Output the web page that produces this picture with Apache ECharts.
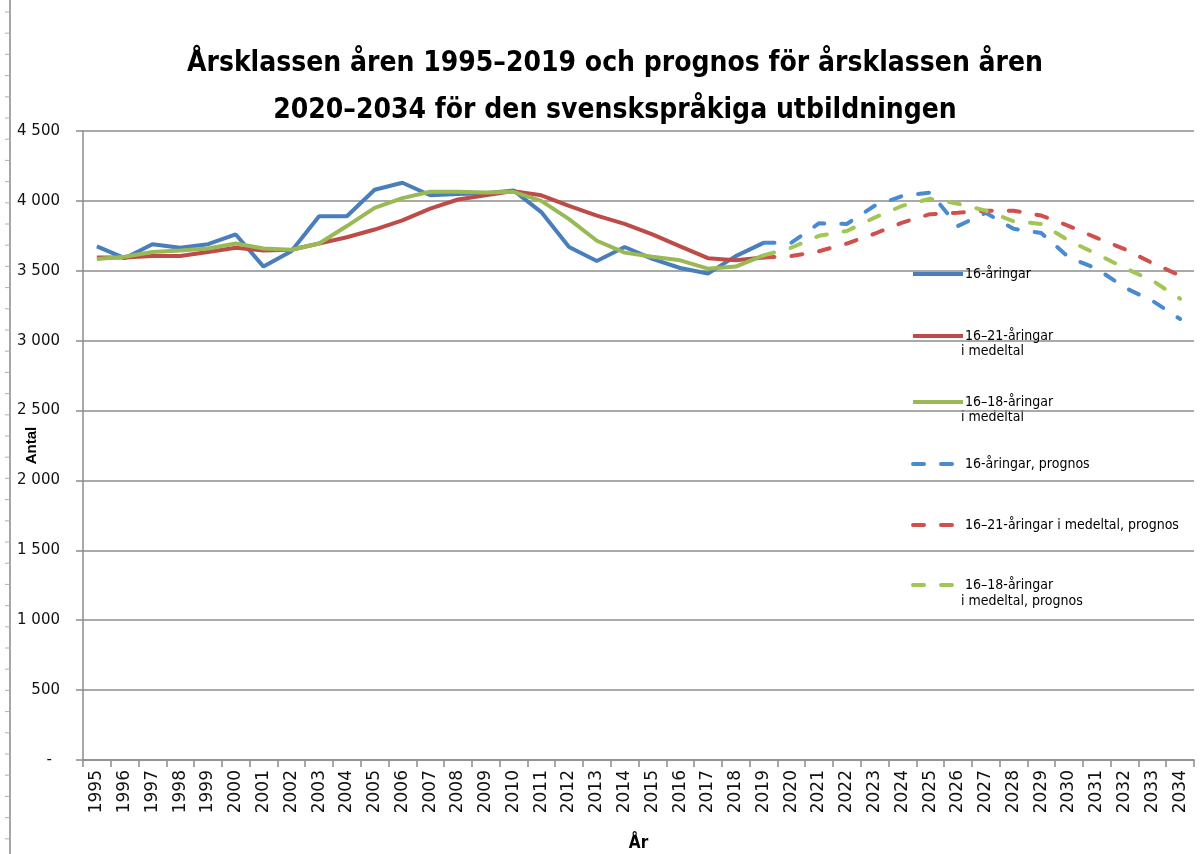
<!DOCTYPE html>
<html>
<head>
<meta charset="utf-8">
<script src="https://cdn.jsdelivr.net/npm/echarts@6/dist/echarts.min.js"></script>
<style>
html,body{margin:0;padding:0;background:#fff;}
#chart{width:1200px;height:854px;}
</style>
</head>
<body>
<div id="chart"></div>
<script>
const years = ['1995','1996','1997','1998','1999','2000','2001','2002','2003','2004','2005','2006','2007','2008','2009','2010','2011','2012','2013','2014','2015','2016','2017','2018','2019','2020','2021','2022','2023','2024','2025','2026','2027','2028','2029','2030','2031','2032','2033','2034'];

// Historical 1995–2019
const age16 = [3675,3590,3690,3665,3690,3760,3530,3640,3890,3890,4080,4130,4040,4050,4055,4075,3920,3670,3570,3670,3585,3520,3480,3605,3700];
const age16to21 = [3595,3595,3605,3605,3635,3665,3645,3650,3695,3740,3795,3860,3945,4010,4040,4070,4040,3965,3895,3835,3760,3675,3590,3575,3595];
const age16to18 = [3585,3600,3635,3645,3660,3695,3660,3650,3695,3820,3950,4020,4065,4065,4060,4065,4000,3870,3715,3630,3600,3575,3515,3530,3610];

// Forecast 2019–2034
const age16Forecast = [3700,3700,3840,3835,3965,4035,4060,3820,3915,3800,3770,3595,3515,3380,3285,3155];
const age16to21Forecast = [3595,3605,3640,3695,3765,3845,3905,3915,3930,3930,3895,3820,3735,3655,3555,3465];
const age16to18Forecast = [3610,3665,3750,3785,3880,3965,4015,3980,3930,3855,3835,3715,3620,3520,3430,3300];

const yTicks = ['-','500','1 000','1 500','2 000','2 500','3 000','3 500','4 000','4 500'];

const names = ['16-åringar','16–21-åringar','16–18-åringar','16-åringar, prognos','16–21-åringar i medeltal, prognos','16–18-åringar '];

function hist(arr){ return years.map((y,i)=> i < arr.length ? arr[i] : null); }
function fore(arr){ const start = years.indexOf('2019'); return years.map((y,i)=> i >= start ? arr[i-start] : null); }

const NARROW = "'Liberation Sans Narrow','DejaVu Sans Condensed','Liberation Sans',sans-serif";
const colors = ['#4a7ebb','#be4b48','#98b954','#4a8bd0','#d0504d','#a2c656'];

const dash = [11,17];
const chart = echarts.init(document.getElementById('chart'));

function mkLegend(idx, top){
  return {
    data:[{name: names[idx]}],
    left: 906, top: top,
    orient:'vertical',
    itemWidth: 50, itemHeight: 10, itemGap: 0,
    textStyle:{fontFamily:NARROW, fontSize:14, color:'#000', padding:[0,0,0,-3]},
    lineStyle:{width:4},
    itemStyle:{opacity:0},
    selectedMode:false
  };
}

const tickGraphics = [];
for (let k = 0; k < 40; k++) {
  const y = 12 + k*21.2;
  tickGraphics.push({type:'line', silent:true, shape:{x1:5,y1:y,x2:10,y2:y}, style:{stroke:'#b0b0b0', lineWidth:1}});
}

const option = {
  animation:false,
  backgroundColor:'#fff',
  title:{
    text:'Årsklassen åren 1995–2019 och prognos för årsklassen åren\n2020–2034 för den svenskspråkiga utbildningen',
    left:610, top:35, textAlign:'center',
    textStyle:{fontFamily:NARROW, fontSize:28, fontWeight:'bold', color:'#000', lineHeight:47}
  },
  grid:{left:83, right:6, top:131, bottom:94, outerBoundsMode:'none', containLabel:false},
  xAxis:{
    type:'category', data:years, boundaryGap:true,
    name:'År', nameLocation:'middle', nameGap:75, nameMoveOverlap:false,
    nameTextStyle:{fontFamily:NARROW, fontSize:17, fontWeight:'bold', color:'#000'},
    axisLine:{lineStyle:{color:'#8c8c8c', width:1.5}},
    axisTick:{show:true, interval:0, length:7, lineStyle:{color:'#8c8c8c', width:1.5}},
    axisLabel:{interval:0, rotate:90, margin:10, fontFamily:'DejaVu Sans', fontSize:17, color:'#111'},
    splitLine:{show:false}
  },
  yAxis:{
    type:'value', min:0, max:4500, interval:500,
    name:'Antal', nameLocation:'middle', nameGap:44, nameRotate:90, nameMoveOverlap:false,
    nameTextStyle:{fontFamily:'Liberation Sans', fontSize:15, fontWeight:'bold', color:'#000'},
    axisLine:{show:true, lineStyle:{color:'#8c8c8c', width:1.5}},
    axisTick:{show:true, length:7, lineStyle:{color:'#8c8c8c', width:1.5}},
    axisLabel:{margin:23, fontFamily:'DejaVu Sans', fontSize:15, color:'#111',
      formatter:function(v){ const i = Math.round(v/500); return i===0 ? '{d|-}' : yTicks[i]; },
      rich:{d:{fontFamily:'DejaVu Sans', fontSize:15, color:'#111', padding:[0,8,0,0]}}
    },
    splitLine:{show:true, lineStyle:{color:'#8c8c8c', width:1.5}}
  },
  legend:[
    mkLegend(0, 262),
    mkLegend(1, 324),
    mkLegend(2, 390),
    mkLegend(3, 452),
    mkLegend(4, 513),
    mkLegend(5, 573)
  ],
  graphic:[
    {type:'line', silent:true, shape:{x1:10,y1:0,x2:10,y2:854}, style:{stroke:'#a6a6a6', lineWidth:2}},
    ...tickGraphics,
    {type:'text', left:961, top:344, silent:true, style:{text:'i medeltal', font:"14px 'Liberation Sans Narrow','DejaVu Sans Condensed',sans-serif", fill:'#000'}},
    {type:'text', left:961, top:410, silent:true, style:{text:'i medeltal', font:"14px 'Liberation Sans Narrow','DejaVu Sans Condensed',sans-serif", fill:'#000'}},
    {type:'text', left:961, top:594, silent:true, style:{text:'i medeltal, prognos', font:"14px 'Liberation Sans Narrow','DejaVu Sans Condensed',sans-serif", fill:'#000'}}
  ],
  series:[
    {name:names[0], type:'line', data:hist(age16), symbol:'none', lineStyle:{color:colors[0], width:4}, itemStyle:{color:colors[0]}, z:2},
    {name:names[1], type:'line', data:hist(age16to21), symbol:'none', lineStyle:{color:colors[1], width:4}, itemStyle:{color:colors[1]}, z:3},
    {name:names[2], type:'line', data:hist(age16to18), symbol:'none', lineStyle:{color:colors[2], width:4}, itemStyle:{color:colors[2]}, z:4},
    {name:names[3], type:'line', data:fore(age16Forecast), symbol:'none', lineStyle:{color:colors[3], width:4, type:dash, cap:'round'}, itemStyle:{color:colors[3]}, z:2},
    {name:names[4], type:'line', data:fore(age16to21Forecast), symbol:'none', lineStyle:{color:colors[4], width:4, type:dash, cap:'round'}, itemStyle:{color:colors[4]}, z:3},
    {name:names[5], type:'line', data:fore(age16to18Forecast), symbol:'none', lineStyle:{color:colors[5], width:4, type:dash, cap:'round'}, itemStyle:{color:colors[5]}, z:4}
  ]
};
chart.setOption(option);
</script>
</body>
</html>
